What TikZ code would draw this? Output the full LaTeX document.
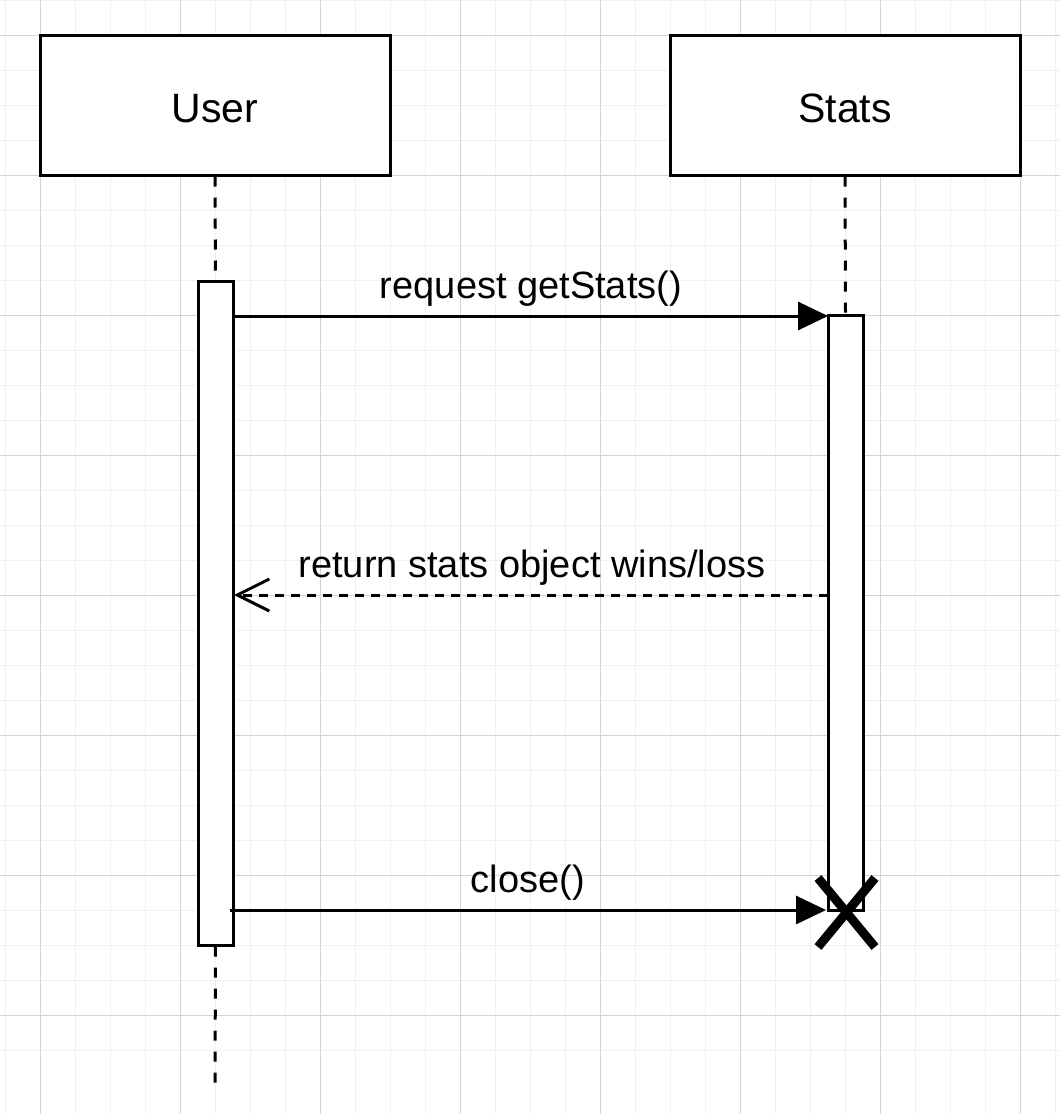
\documentclass[tikz,border=0pt]{standalone}
\usepackage{fontspec}
\setmainfont{Liberation Sans}
\usetikzlibrary{arrows.meta}
\begin{document}
\begin{tikzpicture}[x=1pt,y=-1pt,
  minorgrid/.style={draw=black!6,line width=1pt},
  majorgrid/.style={draw=black!17,line width=1pt},
  headbox/.style={draw=black,line width=3pt,fill=white,minimum width=350pt,minimum height=140pt,inner sep=0pt,font=\fontsize{41}{48}\selectfont},
  actbox/.style={draw=black,line width=3pt,fill=white},
  lifeline/.style={line width=3pt,dash pattern=on 10pt off 11pt},
  msg/.style={line width=3pt,-{Triangle[length=30pt,width=28pt]}},
  retmsg/.style={line width=3pt,dash pattern=on 9pt off 7pt,-{Straight Barb[length=32pt,width=32pt,line width=3pt]}},
  lbl/.style={font=\fontsize{38}{44}\selectfont,anchor=base,inner sep=0pt},
  destroy/.style={line width=9pt}
]
\useasboundingbox (0,0) rectangle (1060,1114);
\fill[white] (0,0) rectangle (1060,1114);
% grid
\foreach \i in {0,...,30} {
  \draw[minorgrid] ({5+35*\i},0) -- ({5+35*\i},1114);
  \draw[minorgrid] (0,{35*\i}) -- (1060,{35*\i});
}
\foreach \i in {0,...,7} {
  \draw[majorgrid] ({40+140*\i},0) -- ({40+140*\i},1114);
  \draw[majorgrid] (0,{35+140*\i}) -- (1060,{35+140*\i});
}
% heads
\node[headbox] (user) at (215,105) {};
\node[headbox] (stats) at (845,105) {};
\node[lbl,font=\fontsize{41}{48}\selectfont] (usertxt) at (215,122) {User};
\node[lbl,font=\fontsize{41}{48}\selectfont] (statstxt) at (845,122) {Stats};
% activations
\node[actbox,minimum width=35pt,minimum height=664pt,inner sep=0pt] (uact) at (215.5,613) {};
\node[actbox,minimum width=35pt,minimum height=595pt,inner sep=0pt] (sact) at (845.5,612.5) {};
\coordinate (uend) at (215,1085);
% lifelines
\draw[lifeline] (user.south) -- (uact.north);
\draw[lifeline] (uact.south) -- (uend);
\draw[lifeline] (stats.south) -- (sact.north);
% redraw activations above lifelines
\node[actbox,minimum width=35pt,minimum height=664pt,inner sep=0pt] at (215.5,613) {};
\node[actbox,minimum width=35pt,minimum height=595pt,inner sep=0pt] at (845.5,612.5) {};
% messages
\coordinate (m1s) at (233,316);
\coordinate (m1e) at (828,316);
\draw[msg] (m1s) -- (m1e);
\node[lbl] (m1l) at (531,298) {request getStats()};
\coordinate (m2s) at (828,595);
\coordinate (m2e) at (234,595);
\draw[retmsg] (m2s) -- (m2e);
\node[lbl] (m2l) at (532,577) {return stats object wins/loss};
\coordinate (m3s) at (230,910);
\coordinate (m3e) at (826,910);
\draw[msg] (m3s) -- (m3e);
\node[lbl] (m3l) at (528,892) {close()};
% destruction
\coordinate (x1) at (818,878);
\coordinate (x2) at (875,947);
\coordinate (x3) at (875,878);
\coordinate (x4) at (818,947);
\draw[destroy] (x1) -- (x2);
\draw[destroy] (x3) -- (x4);
\end{tikzpicture}
\end{document}
